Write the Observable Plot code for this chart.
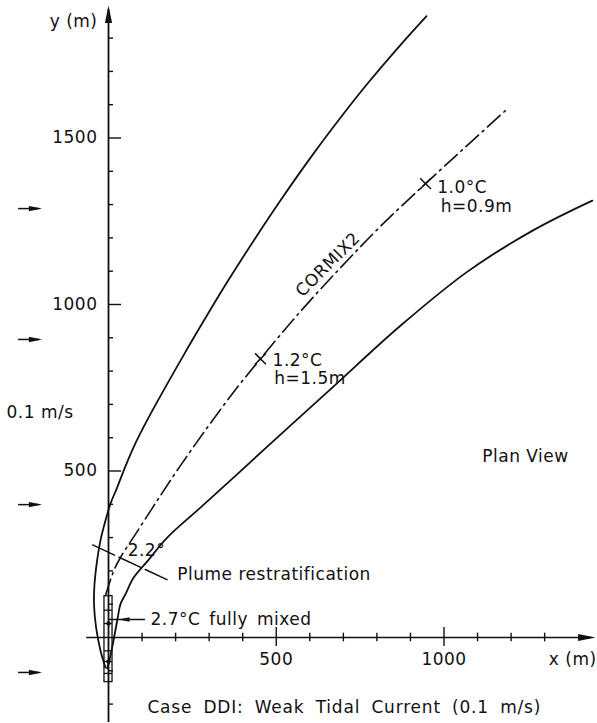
<!DOCTYPE html>
<html><head><meta charset="utf-8">
<script src="https://cdn.jsdelivr.net/npm/d3@7"></script>
<script src="https://cdn.jsdelivr.net/npm/@observablehq/plot@0.6"></script>
<style>
html,body{margin:0;padding:0;background:#fff;}
</style>
</head><body><div id="chart"></div>
<script>
// plume boundaries and centreline, metres (x, y)
const upperEdge = [[-9,-90],[-24,-39],[-37,30],[-43,96],[-42,156],[-34,231],[-24,291],[-9,351],[6,402],[26,451],[48,508],[75,572],[115,652],[224,848],[300,978],[358,1074],[440,1203],[513,1313],[611,1453],[700,1572],[771,1662],[870,1779],[948,1866]];
const lowerEdge = [[-4,-93],[6,-54],[15,-9],[26,51],[36,101],[51,131],[75,180],[120,234],[175,300],[274,390],[393,499],[533,628],[672,755],[870,936],[1069,1098],[1268,1224],[1442,1312]];
const centerline = [[-9,126],[16,201],[36,241],[81,311],[145,411],[215,517],[300,638],[380,746],[453,837],[572,979],[692,1111],[811,1235],[945,1363],[1065,1474],[1186,1585]];
const crossMarks = [[453,837],[945,1363]];
const restratLine = [[-47,278],[180,171]];
const currentArrowY = [1288, 895, 399, -105];
const yMinorTicks = [-200,-100,100,200,300,400,600,700,800,900,1100,1200,1300,1400,1600,1700,1800];
const yMajorTicks = [500, 1000, 1500];
const xMinorTicks = [100,200,300,400,600,700,800,900,1100,1200,1300];
const xMajorTicks = [500, 1000];
const diffuserJoints = [82, 42, -40, -72, -108];
const diffuserDots = [42, -72];
const leftLabels = [
  {x: -304, y: 677, text: "0.1 m/s"},
  {x: 489, y: 832, text: "1.2°C"},
  {x: 494, y: 778, text: "h=1.5m"},
  {x: 980, y: 1350, text: "1.0°C"},
  {x: 990, y: 1294, text: "h=0.9m"},
  {x: 1114, y: 542, text: "Plan View"},
  {x: 205, y: 189, text: "Plume restratification"},
  {x: 125, y: 54, text: "2.7°C fully mixed"},
  {x: 116, y: -210, text: "Case DDI: Weak Tidal Current (0.1 m/s)"}
];
const centreLabels = [{x: 113, y: 261, text: "2.2°", rotate: 0}, {x: 654, y: 1120, text: "CORMIX2", rotate: -45}];

const arrowHead = {draw(ctx, size) {
  const r = Math.sqrt(size / Math.PI);
  ctx.moveTo(0, 0); ctx.lineTo(r * 0.45, r * 2.2); ctx.lineTo(-r * 0.45, r * 2.2); ctx.closePath();
}};

const X = d => d[0], Y = d => d[1];
const chart = Plot.plot({
  width: 597, height: 723, margin: 0,
  x: {domain: [-321.9, 1457.5], range: [0, 597], axis: null},
  y: {domain: [-258.3, 1912.9], range: [723, 0], axis: null},
  style: "font-family: 'DejaVu Sans', sans-serif; font-size: 17px; letter-spacing: 0.5px; background: #fff; color: #111;",
  marks: [
    // axes
    Plot.ruleX([0], {y1: -255, y2: 1885, strokeWidth: 1.8}),
    Plot.ruleY([0], {x1: -65, x2: 1440, strokeWidth: 1.6}),
    Plot.dot([[0, 1898]], {x: X, y: Y, symbol: arrowHead, r: 8, fill: "currentColor", stroke: "none"}),
    Plot.dot([[1452, 0]], {x: X, y: Y, symbol: arrowHead, r: 8, fill: "currentColor", stroke: "none", rotate: 90}),
    Plot.ruleY(yMinorTicks, {y: d => d, x1: 0, x2: 15, strokeWidth: 1.4}),
    Plot.ruleY(yMajorTicks, {y: d => d, x1: 0, x2: 39, strokeWidth: 1.4}),
    Plot.ruleX(xMinorTicks, {x: d => d, y1: -13, y2: 13, strokeWidth: 1.4}),
    Plot.ruleX(xMajorTicks, {x: d => d, y1: -27, y2: 30, strokeWidth: 1.4}),
    Plot.text(yMajorTicks, {x: 0, y: d => d, text: d => String(d), textAnchor: "end", dx: -11}),
    Plot.text(xMajorTicks, {x: d => d, y: 0, text: d => String(d), dy: 22}),
    Plot.text(["y (m)"], {x: 0, y: 1850, text: d => d, textAnchor: "end", dx: -11}),
    Plot.text(["x (m)"], {x: 1455, y: 0, text: d => d, textAnchor: "end", dy: 22}),
    // current arrows
    Plot.ruleY(currentArrowY, {y: d => d, x1: -268, x2: -205, strokeWidth: 1.5}),
    Plot.dot(currentArrowY, {x: -198, y: d => d, symbol: arrowHead, r: 6, fill: "currentColor", stroke: "none", rotate: 90}),
    // plume
    Plot.line(upperEdge, {x: X, y: Y, curve: "catmull-rom", strokeWidth: 1.8}),
    Plot.line(lowerEdge, {x: X, y: Y, curve: "catmull-rom", strokeWidth: 1.8}),
    Plot.line(centerline, {x: X, y: Y, curve: "catmull-rom", strokeWidth: 1.6, strokeDasharray: "17,5,2,5"}),
    Plot.dot(crossMarks, {x: X, y: Y, symbol: "times", r: 5, strokeWidth: 1.5}),
    Plot.line(restratLine, {x: X, y: Y, strokeWidth: 1.5, strokeDasharray: "24,5"}),
    // diffuser
    Plot.rect([{x1: -12, x2: 12, y1: -134, y2: 124}], {x1: "x1", x2: "x2", y1: "y1", y2: "y2", fill: "none", stroke: "currentColor", strokeWidth: 1.3}),
    Plot.ruleY(diffuserJoints, {y: d => d, x1: -12, x2: 12, strokeWidth: 1.3}),
    Plot.dot(diffuserDots, {x: 0, y: d => d, r: 2.2, fill: "currentColor", stroke: "none"}),
    // fully mixed pointer
    Plot.ruleY([54], {y: d => d, x1: 0, x2: 110, strokeWidth: 1.3}),
    Plot.dot([[30, 54]], {x: X, y: Y, symbol: arrowHead, r: 5, fill: "currentColor", stroke: "none", rotate: -90}),
    // labels
    Plot.text(leftLabels, {x: "x", y: "y", text: "text", textAnchor: "start"}),
    Plot.text(centreLabels, {x: "x", y: "y", text: "text", rotate: "rotate"})
  ]
});
chart.querySelectorAll("text").forEach(t => {
  if (t.textContent.startsWith("Case")) { t.style.letterSpacing = "0.8px"; t.style.wordSpacing = "5px"; }
  if (t.textContent.startsWith("2.7")) { t.style.wordSpacing = "3px"; }
});
document.getElementById("chart").append(chart);
</script>
</body></html>
